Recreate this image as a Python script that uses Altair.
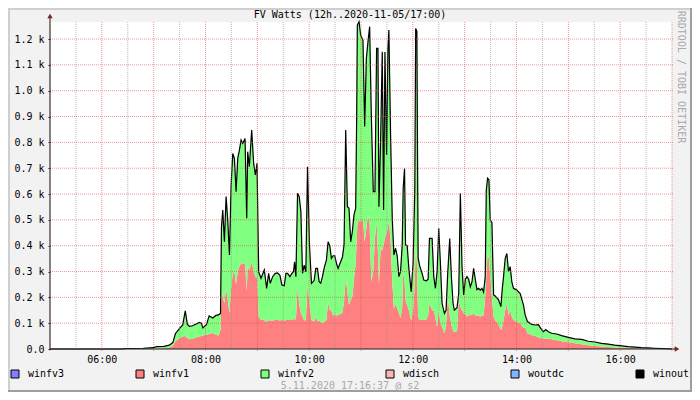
import altair as alt
import pandas as pd

# ---- data (time in hours, values in W) ----
hours = [5.00, 6.40, 6.45, 6.80, 7.00, 7.05, 7.20, 7.30, 7.37, 7.42, 7.45, 7.50, 7.56, 7.61, 7.65,
         7.69, 7.75, 7.82, 7.88, 7.92, 7.95, 8.02, 8.07, 8.14, 8.20, 8.25, 8.29,
         8.308, 8.333, 8.365, 8.397, 8.429, 8.462, 8.494, 8.526, 8.558, 8.590, 8.622, 8.654,
         8.686, 8.718, 8.763, 8.795, 8.814, 8.846, 8.891, 8.929, 8.962, 8.994,
         9.026, 9.071, 9.103, 9.135, 9.179, 9.218, 9.250, 9.295, 9.346, 9.391, 9.436, 9.474,
         9.519, 9.551, 9.583, 9.628, 9.667, 9.699, 9.718, 9.744, 9.776, 9.808, 9.840, 9.872,
         9.904, 9.936, 9.968, 10.006, 10.045, 10.096, 10.128, 10.160, 10.192, 10.224, 10.256,
         10.288, 10.333, 10.365, 10.397, 10.429, 10.462, 10.494, 10.526, 10.558, 10.596, 10.641,
         10.673, 10.705, 10.737, 10.769, 10.801, 10.833, 10.865, 10.897, 10.917, 10.929, 10.962,
         10.994, 11.038, 11.071, 11.103, 11.135, 11.167, 11.199, 11.237, 11.269, 11.301, 11.327,
         11.346, 11.378, 11.410, 11.436, 11.462, 11.494, 11.519, 11.538, 11.571, 11.603, 11.635,
         11.667, 11.699, 11.731, 11.763, 11.795, 11.814, 11.840, 11.859, 11.891, 11.923, 11.968,
         12.006, 12.038, 12.055, 12.078, 12.092, 12.103, 12.135, 12.179, 12.212, 12.263, 12.295,
         12.321, 12.372, 12.404, 12.436, 12.468, 12.500, 12.532, 12.564, 12.609, 12.641, 12.673,
         12.712, 12.744, 12.776, 12.801, 12.853, 12.885, 12.917, 12.949, 12.981, 13.013, 13.045,
         13.077, 13.109, 13.141, 13.173, 13.205, 13.237, 13.269, 13.301, 13.333, 13.365, 13.397,
         13.417, 13.442, 13.468, 13.494, 13.526, 13.558, 13.590, 13.654, 13.699, 13.724, 13.750,
         13.782, 13.814, 13.846, 13.878, 13.910, 13.942, 14.006, 14.071, 14.135, 14.167, 14.212,
         14.295, 14.359, 14.423, 14.468, 14.519, 14.564, 14.615, 14.679, 14.776, 14.872, 15.000,
         15.128, 15.256, 15.385, 15.513, 15.641, 15.769, 15.897, 16.026, 16.154, 16.282, 16.410,
         16.538, 16.667, 16.795, 16.923, 17.000]

winout = [0, 0, 2, 3, 5, 9, 10, 15, 25, 60, 67, 80, 93, 148, 95,
          88, 90, 97, 103, 100, 82, 95, 128, 120, 130, 132, 138,
          473, 538, 415, 590, 499, 364, 635, 757, 738, 609, 738, 770,
          809, 796, 815, 506, 764, 706, 848, 719, 674, 719,
          299, 274, 290, 306, 235, 293, 254, 280, 293, 295, 285, 248,
          245, 293, 293, 280, 293, 300, 338, 280, 603, 590, 532, 293,
          325, 299, 706, 403, 254, 265, 312, 312, 261, 255, 280,
          312, 345, 415, 400, 351, 361, 361, 332, 312, 332, 355,
          403, 848, 551, 545, 415, 455, 519, 545, 906, 1254, 1267,
          1215, 1196, 861, 1125, 1190, 1248, 906, 609, 609, 1164, 1164,
          551, 803, 1151, 538, 1150, 751, 1160, 1235, 828, 506, 364,
          390, 360, 280, 300, 403, 622, 699, 403, 400, 312, 222,
          338, 622, 1241, 1230, 700, 351, 320, 293, 267, 264, 270,
          428, 428, 280, 235, 300, 467, 332, 177, 138, 150, 293,
          428, 280, 177, 151, 160, 215, 603, 319, 209, 270, 280,
          270, 241, 260, 312, 270, 230, 235, 228, 235, 220, 280,
          615, 661, 655, 499, 490, 209, 205, 190, 164, 230, 280,
          351, 370, 300, 319, 260, 235, 228, 215, 170, 132, 106,
          95, 93, 94, 80, 67, 75, 67, 61, 58, 52, 45,
          39, 37, 30, 27, 22, 19, 15, 12, 9, 7, 5,
          4, 3, 2, 1, 0]

winfv1 = [0, 0, 0, 0, 0, 2, 3, 6, 12, 30, 35, 42, 48, 50, 42,
          38, 40, 45, 48, 50, 52, 55, 58, 62, 55, 52, 74,
          228, 200, 176, 235, 190, 138, 230, 293, 295, 250, 300, 319,
          332, 330, 332, 222, 320, 305, 338, 300, 280, 275,
          125, 112, 115, 110, 105, 112, 110, 110, 112, 112, 110, 112,
          108, 112, 112, 112, 112, 115, 120, 112, 241, 174, 140, 125,
          110, 112, 248, 170, 112, 106, 125, 106, 110, 105, 99,
          105, 112, 183, 150, 150, 130, 132, 130, 132, 135, 140,
          183, 274, 220, 170, 190, 200, 270, 330, 415, 480, 500,
          493, 500, 415, 467, 519, 480, 261, 300, 430, 493, 370,
          250, 390, 380, 405, 430, 450, 470, 500, 420, 260, 157,
          175, 157, 140, 119, 160, 299, 260, 190, 170, 150, 110,
          150, 254, 400, 330, 200, 125, 112, 112, 112, 115, 130,
          177, 150, 150, 120, 85, 150, 100, 86, 61, 86, 203,
          130, 95, 70, 65, 70, 190, 164, 150, 140, 135, 125,
          130, 135, 130, 140, 130, 130, 130, 125, 130, 130, 200,
          280, 370, 350, 280, 200, 125, 110, 95, 74, 85, 110,
          150, 177, 130, 150, 125, 112, 105, 100, 80, 86, 60,
          54, 50, 45, 43, 41, 40, 40, 38, 34, 30, 26,
          22, 18, 15, 12, 10, 8, 6, 5, 4, 3, 3,
          2, 1, 0, 0, 0]

series_names = ["winfv3", "winfv1", "winfv2", "wdisch", "woutdc", "winout"]
series_colors = ["#7f7fff", "#ff7f7f", "#7fff7f", "#ffb4b4", "#7fb7ff", "#000000"]

y_ticks = [0, 100, 200, 300, 400, 500, 600, 700, 800, 900, 1000, 1100, 1200]
x_grid = [5 + 0.5 * i for i in range(25)]

title_text = "FV Watts (12h..2020-11-05/17:00)"
footer_text = "5.11.2020 17:16:37 @ s2"
side_text = "RRDTOOL / TOBI OETIKER"

FONT = "DejaVu Sans Mono"
W, H = 622, 327

df = pd.DataFrame({"h": hours, "winout": winout, "winfv1": winfv1})
one = pd.DataFrame({"a": [0]})
legend_df = pd.DataFrame({"series": series_names})
xgrid_df = pd.DataFrame({"h": x_grid, "major": [v % 1 == 0 for v in x_grid]})
ygrid_df = pd.DataFrame({"v": y_ticks})

xscale = alt.Scale(domain=[5, 17], nice=False, zero=False)
yscale = alt.Scale(domain=[0, 1266], nice=False)

xaxis = alt.Axis(
    values=x_grid, title=None, grid=False, domain=False,
    labelExpr="datum.value % 2 === 0 ? (datum.value < 10 ? '0' : '') + datum.value + ':00' : ''",
    ticks=False,
    labelFont=FONT, labelFontSize=10, labelColor="black", labelPadding=5,
    labelOverlap=False, labelFlush=False, labelBound=False,
)
yaxis = alt.Axis(
    values=y_ticks, title=None, grid=False, domain=False,
    labelExpr="datum.value === 0 ? '0.0' : format(datum.value / 1000, '.1f') + ' k'",
    ticks=True, tickSize=2, tickColor="#1F1F1F",
    labelFont=FONT, labelFontSize=10, labelColor="black", labelPadding=4,
    labelOverlap=False, labelFlush=False, labelBound=False,
)

X = alt.X("h:Q", scale=xscale, axis=xaxis)

base = alt.Chart(df)

red_area = base.mark_area(color="#ff8080", opacity=1).encode(
    x=X, y=alt.Y("winfv1:Q", scale=yscale, axis=yaxis),
)
green_area = base.mark_area(color="#80ff80", opacity=1).encode(
    x=X, y=alt.Y("winout:Q", scale=yscale, axis=yaxis), y2="winfv1:Q",
)
line = base.mark_line(color="black", strokeWidth=1.2).encode(
    x=X, y=alt.Y("winout:Q", scale=yscale, axis=yaxis),
)

# grid drawn on top of the areas (as RRDtool does), from the tick arrays
vgrid_minor = alt.Chart(xgrid_df).transform_filter("!datum.major").mark_rule(
    color="#8F8F8F", opacity=0.6, strokeDash=[1, 1], strokeWidth=1).encode(
    x=X, y=alt.value(0), y2=alt.value(H))
vgrid_major = alt.Chart(xgrid_df).transform_filter("datum.major").mark_rule(
    color="#DE4F4F", opacity=0.6, strokeDash=[1, 1], strokeWidth=1).encode(
    x=X, y=alt.value(0), y2=alt.value(H + 3))
hgrid = alt.Chart(ygrid_df).transform_filter("datum.v > 0").mark_rule(
    color="#DE4F4F", opacity=0.6, strokeDash=[1, 1], strokeWidth=1).encode(
    y=alt.Y("v:Q", scale=yscale, axis=yaxis), x=alt.value(0), x2=alt.value(W + 2))

legend_layer = alt.Chart(legend_df).mark_square(size=64, stroke="black", strokeWidth=1, opacity=1).encode(
    x=alt.value(-400), y=alt.value(-400),
    color=alt.Color(
        "series:N",
        scale=alt.Scale(domain=series_names, range=series_colors),
        legend=alt.Legend(
            title=None, orient="none", legendX=-40, legendY=347,
            direction="horizontal", columns=6, symbolType="square", symbolSize=64,
            symbolStrokeColor="black", symbolStrokeWidth=1, symbolOpacity=1,
            labelFont=FONT, labelFontSize=10, labelColor="black", labelOffset=8,
            columnPadding=69, padding=0,
        ),
    ),
)

axis_color = "#1F1F1F"
arrow_color = "#801F1F"
y_axis_line = alt.Chart(one).mark_rule(color=axis_color, strokeWidth=1).encode(
    x=alt.value(0), y=alt.value(-4), y2=alt.value(H))
x_axis_line = alt.Chart(one).mark_rule(color=axis_color, strokeWidth=1).encode(
    x=alt.value(0), x2=alt.value(W + 4), y=alt.value(H))
up_arrow = alt.Chart(one).mark_point(shape="triangle-up", filled=True, size=28, color=arrow_color, opacity=1).encode(
    x=alt.value(0), y=alt.value(-6))
right_arrow = alt.Chart(one).mark_point(shape="triangle-right", filled=True, size=28, color=arrow_color, opacity=1).encode(
    x=alt.value(W + 5), y=alt.value(H))

title_layer = alt.Chart(one).mark_text(font=FONT, fontSize=10, color="black", align="center", baseline="middle").encode(
    x=alt.value(300), y=alt.value(-7), text=alt.value(title_text))
footer_layer = alt.Chart(one).mark_text(font=FONT, fontSize=10, color="#a8a8a8", align="center", baseline="middle").encode(
    x=alt.value(300), y=alt.value(364), text=alt.value(footer_text))
side_layer = alt.Chart(one).mark_text(font=FONT, fontSize=10, color="#a8a8a8", align="center", baseline="middle", angle=90).encode(
    x=alt.value(631), y=alt.value(55), text=alt.value(side_text))

frame_light_top = alt.Chart(one).mark_rule(color="#cfcfcf", strokeWidth=2).encode(
    x=alt.value(-42), x2=alt.value(642), y=alt.value(-13))
frame_light_left = alt.Chart(one).mark_rule(color="#cfcfcf", strokeWidth=2).encode(
    x=alt.value(-41), y=alt.value(-14), y2=alt.value(370))
frame_dark_bottom = alt.Chart(one).mark_rule(color="#9e9e9e", strokeWidth=2).encode(
    x=alt.value(-42), x2=alt.value(642), y=alt.value(369))
frame_dark_right = alt.Chart(one).mark_rule(color="#9e9e9e", strokeWidth=2).encode(
    x=alt.value(641), y=alt.value(-14), y2=alt.value(370))

chart = alt.layer(
    red_area, green_area, line, vgrid_minor, vgrid_major, hgrid, legend_layer,
    y_axis_line, x_axis_line, up_arrow, right_arrow,
    title_layer, footer_layer, side_layer,
    frame_light_top, frame_light_left, frame_dark_bottom, frame_dark_right,
).properties(
    width=W, height=H,
    autosize=alt.AutoSizeParams(type="none"),
    padding={"left": 42, "top": 14, "right": 20, "bottom": 43},
    background="#f2f2f2",
).configure_view(fill="white", stroke=None)

chart.save("out.html", embed_options={"renderer": "svg", "actions": False})
